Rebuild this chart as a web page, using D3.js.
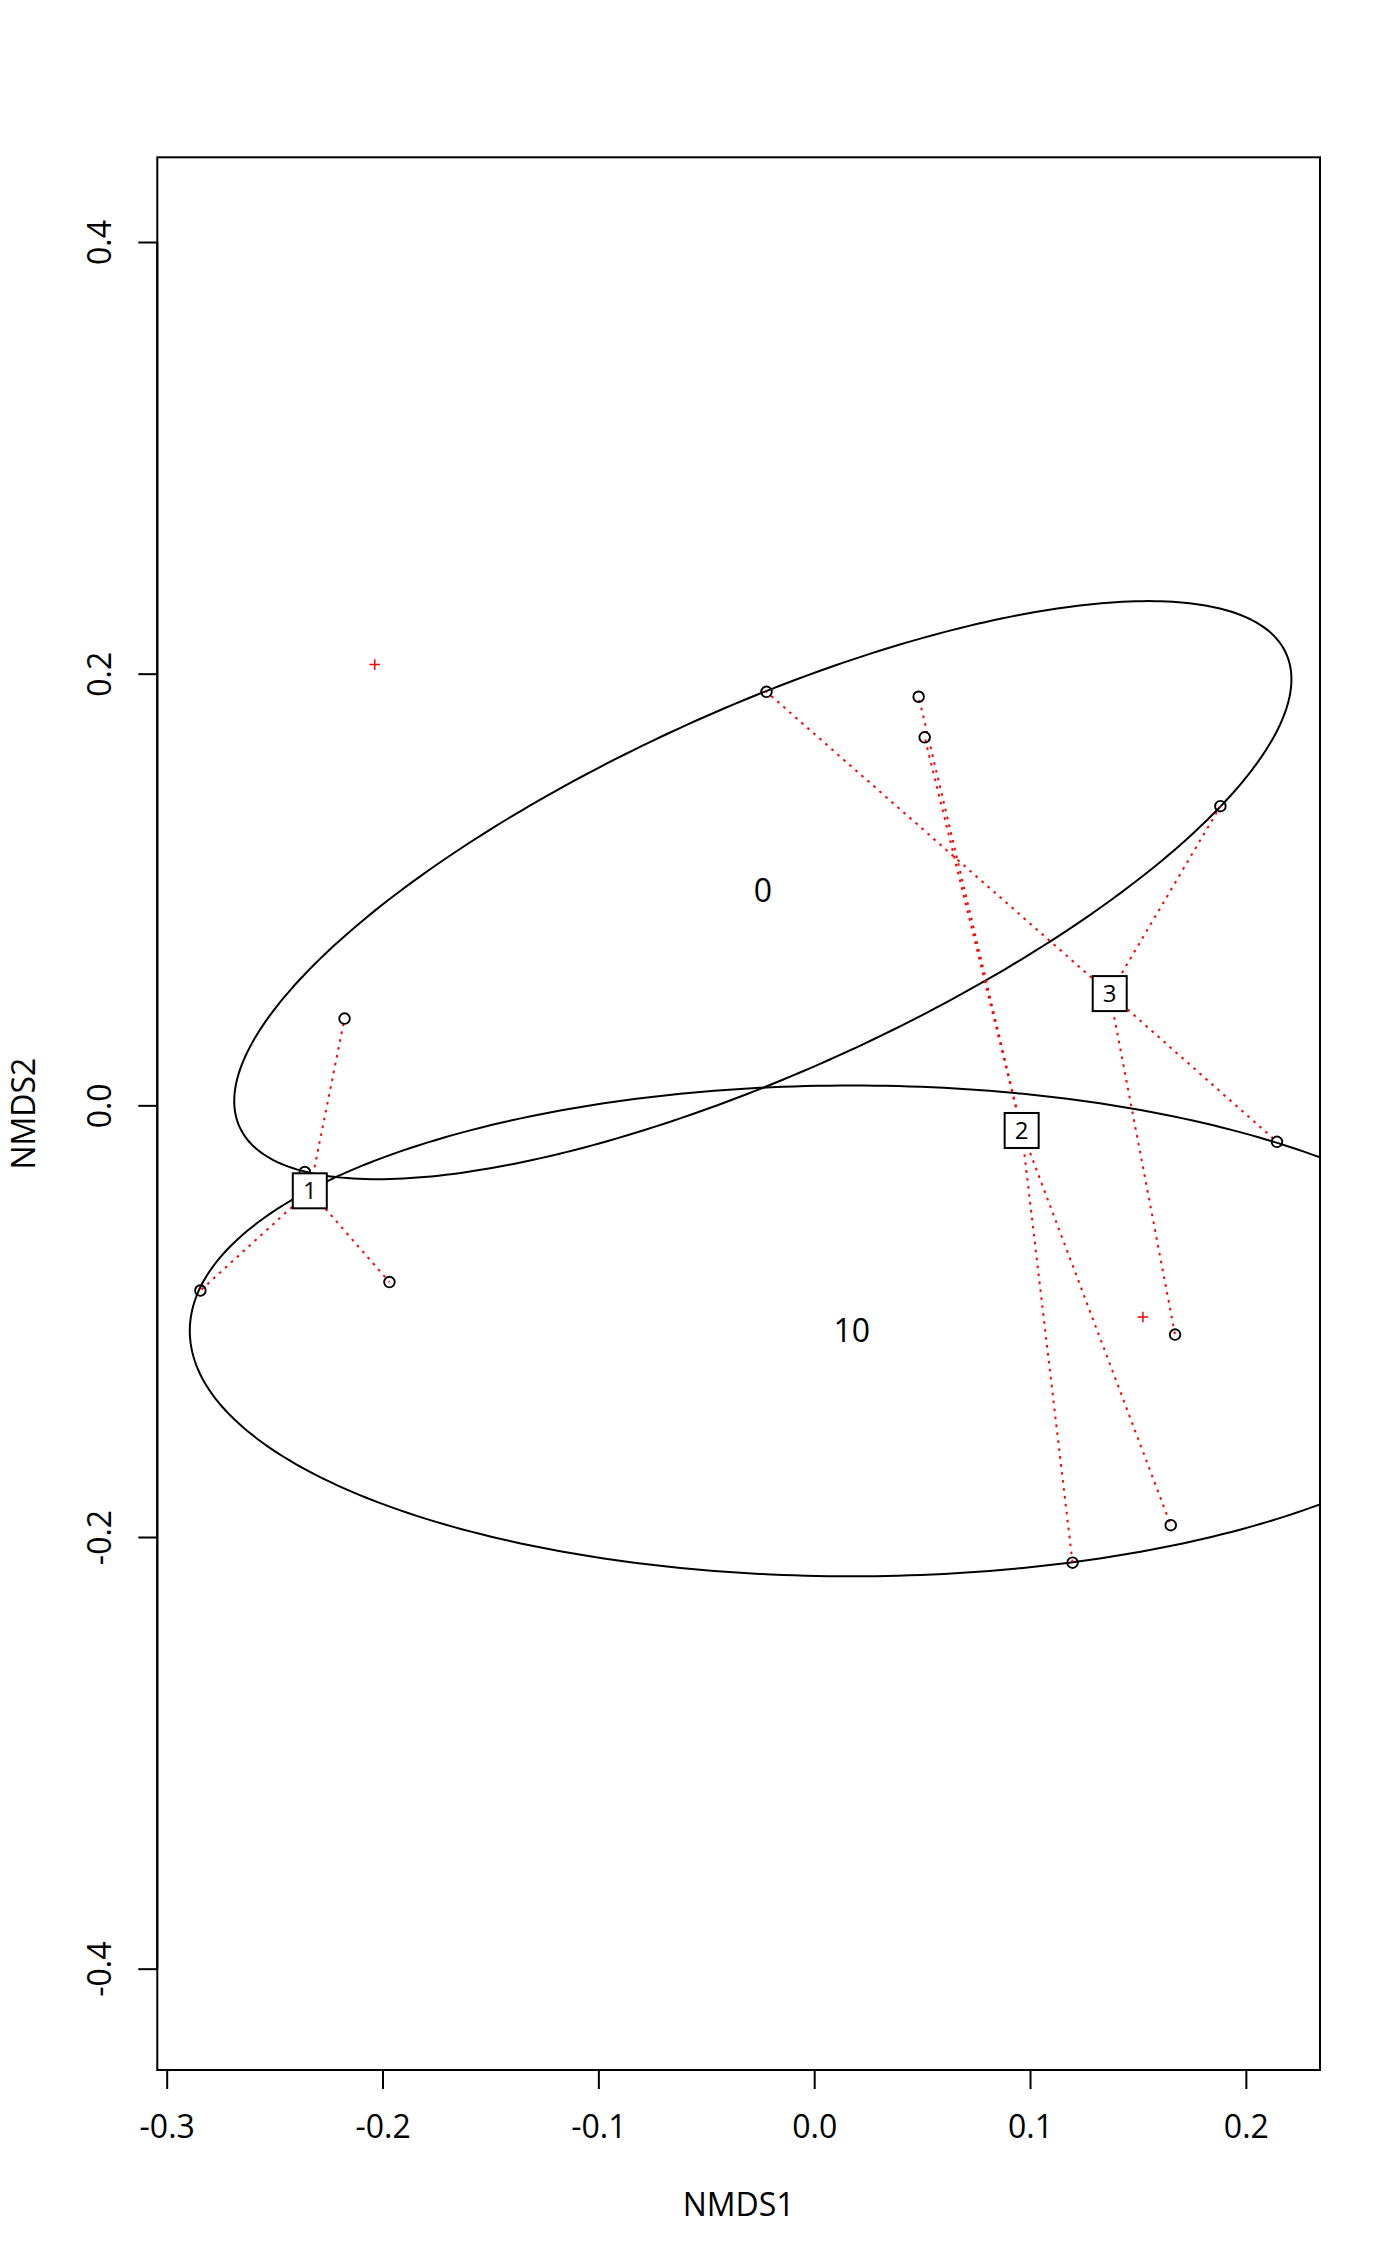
<!DOCTYPE html>
<html>
<head>
<meta charset="utf-8">
<script src="https://cdn.jsdelivr.net/npm/d3@7"></script>
<style>
  html, body { margin: 0; padding: 0; background: #fff; }
  svg { display: block; font-family: "Open Sans", "Noto Sans", sans-serif; }
</style>
</head>
<body>
<svg id="chart" width="1400" height="2266"></svg>
<script>
// ---- data ----
const siteNMDS1 = [-0.2176, -0.2360, -0.2844, -0.1968,  0.0484,  0.0512,  0.1652,  0.1197, -0.0221,  0.1882,  0.1672,  0.2144];
const siteNMDS2 = [ 0.0402, -0.0309, -0.0858, -0.0819,  0.1893,  0.1705, -0.1945, -0.2119,  0.1916,  0.1386, -0.1062, -0.0169];
const siteGroup = ["1", "1", "1", "1", "2", "2", "2", "2", "3", "3", "3", "3"];
const groupNames = ["1", "2", "3"];

const speciesNMDS1 = [-0.2036, 0.1523];
const speciesNMDS2 = [ 0.2042, -0.0981];

const ellipseLabels = ["0", "10"];
const ellipseCX = [-0.0238, 0.0174];
const ellipseCY = [ 0.0997, -0.1045];
const ellipseA  = [ 0.2661, 0.3067];
const ellipseB  = [ 0.0843, 0.1137];
const ellipseAngleDeg = [24.35, 0.0];

const xTicks = [-0.3, -0.2, -0.1, 0.0, 0.1, 0.2];
const xTickLabels = ["-0.3", "-0.2", "-0.1", "0.0", "0.1", "0.2"];
const yTicks = [-0.4, -0.2, 0.0, 0.2, 0.4];
const yTickLabels = ["-0.4", "-0.2", "0.0", "0.2", "0.4"];
const xTitle = "NMDS1";
const yTitle = "NMDS2";

// ---- layout ----
const box = {left: 157.3, right: 1320, top: 157.3, bottom: 2070};
const svg = d3.select("#chart");

// R-style 4% extension, aspect ratio 1
const allX = siteNMDS1.concat(speciesNMDS1);
const allY = siteNMDS2.concat(speciesNMDS2);
const xr = d3.extent(allX), yr = d3.extent(allY);
const xExt = (xr[1] - xr[0]) * 0.04;
const xDom = [xr[0] - xExt, xr[1] + xExt];
const k = (box.right - box.left) / (xDom[1] - xDom[0]);
const yMid = (yr[0] + yr[1]) / 2;
const yHalf = (box.bottom - box.top) / 2 / k;
const x = d3.scaleLinear().domain(xDom).range([box.left, box.right]);
const y = d3.scaleLinear().domain([yMid - yHalf, yMid + yHalf]).range([box.bottom, box.top]);

svg.append("defs").append("clipPath").attr("id", "plotclip")
  .append("rect").attr("x", box.left).attr("y", box.top)
  .attr("width", box.right - box.left).attr("height", box.bottom - box.top);

const plot = svg.append("g").attr("clip-path", "url(#plotclip)");

// ellipses
const angles = d3.range(0, 361, 1).map(d => d * Math.PI / 180);
ellipseLabels.forEach((lab, i) => {
  const th = ellipseAngleDeg[i] * Math.PI / 180;
  const pts = angles.map(t => {
    const u = ellipseA[i] * Math.cos(t), v = ellipseB[i] * Math.sin(t);
    return [ellipseCX[i] + u * Math.cos(th) - v * Math.sin(th),
            ellipseCY[i] + u * Math.sin(th) + v * Math.cos(th)];
  });
  plot.append("path")
    .attr("d", d3.line().x(d => x(d[0])).y(d => y(d[1]))(pts))
    .attr("fill", "none").attr("stroke", "#000").attr("stroke-width", 2);
});

// centroids
const cent = {};
groupNames.forEach(g => {
  const idx = siteGroup.map((s, i) => s === g ? i : -1).filter(i => i >= 0);
  cent[g] = [d3.mean(idx, i => siteNMDS1[i]), d3.mean(idx, i => siteNMDS2[i])];
});

// spider lines
siteNMDS1.forEach((v, i) => {
  const c = cent[siteGroup[i]];
  plot.append("line")
    .attr("x1", x(c[0])).attr("y1", y(c[1]))
    .attr("x2", x(v)).attr("y2", y(siteNMDS2[i]))
    .attr("stroke", "#ff0000").attr("stroke-width", 2)
    .attr("stroke-dasharray", "2.6,5.4");
});

// site points
plot.selectAll("circle.site").data(siteNMDS1).enter().append("circle")
  .attr("class", "site")
  .attr("cx", d => x(d)).attr("cy", (d, i) => y(siteNMDS2[i]))
  .attr("r", 5.3).attr("fill", "none").attr("stroke", "#000").attr("stroke-width", 1.9);

// species crosses
speciesNMDS1.forEach((v, i) => {
  const cx = x(v), cy = y(speciesNMDS2[i]), s = 5.3;
  plot.append("path")
    .attr("d", `M${cx - s},${cy}H${cx + s}M${cx},${cy - s}V${cy + s}`)
    .attr("stroke", "#ff0000").attr("stroke-width", 1.5).attr("fill", "none");
});

// centroid labels
groupNames.forEach(g => {
  const cx = x(cent[g][0]), cy = y(cent[g][1]);
  plot.append("rect").attr("x", cx - 17).attr("y", cy - 17.5)
    .attr("width", 34).attr("height", 35)
    .attr("fill", "#fff").attr("stroke", "#000").attr("stroke-width", 2);
  plot.append("text").attr("x", cx).attr("y", cy + 8.3)
    .attr("text-anchor", "middle").attr("font-size", 24).text(g);
});

// ellipse labels
ellipseLabels.forEach((lab, i) => {
  plot.append("text").attr("x", x(ellipseCX[i])).attr("y", y(ellipseCY[i]) + 11.5)
    .attr("text-anchor", "middle").attr("font-size", 32).text(lab);
});

// frame
svg.append("rect").attr("x", box.left).attr("y", box.top)
  .attr("width", box.right - box.left).attr("height", box.bottom - box.top)
  .attr("fill", "none").attr("stroke", "#000").attr("stroke-width", 2);

// x axis
const xAxisG = svg.append("g").attr("transform", `translate(0,${box.bottom})`);
xAxisG.call(d3.axisBottom(x).tickValues(xTicks).tickSize(19).tickFormat((d, i) => xTickLabels[i]));
xAxisG.select(".domain").attr("d", `M${x(xTicks[0])},0H${x(xTicks[xTicks.length - 1])}`)
  .attr("stroke-width", 2);
xAxisG.selectAll(".tick line").attr("stroke-width", 2);
xAxisG.selectAll(".tick text").attr("font-size", 32).attr("font-family", "Open Sans")
  .attr("fill", "#000").attr("dy", null).attr("y", 68);

// y axis
const yAxisG = svg.append("g").attr("transform", `translate(${box.left},0)`);
yAxisG.call(d3.axisLeft(y).tickValues(yTicks).tickSize(19).tickFormat((d, i) => yTickLabels[i]));
yAxisG.select(".domain").attr("d", `M0,${y(yTicks[0])}V${y(yTicks[yTicks.length - 1])}`)
  .attr("stroke-width", 2);
yAxisG.selectAll(".tick line").attr("stroke-width", 2);
yAxisG.selectAll(".tick text").remove();
yAxisG.selectAll(".tick").append("text")
  .attr("transform", "translate(-46,0) rotate(-90)")
  .attr("text-anchor", "middle").attr("font-size", 32).attr("font-family", "Open Sans")
  .attr("fill", "#000").text((d, i) => yTickLabels[i]);

// axis titles
svg.append("text").attr("x", (box.left + box.right) / 2).attr("y", 2215.5)
  .attr("text-anchor", "middle").attr("font-size", 32).text(xTitle);
svg.append("text").attr("transform", `translate(35,${(box.top + box.bottom) / 2}) rotate(-90)`)
  .attr("text-anchor", "middle").attr("font-size", 32).text(yTitle);
</script>
</body>
</html>
